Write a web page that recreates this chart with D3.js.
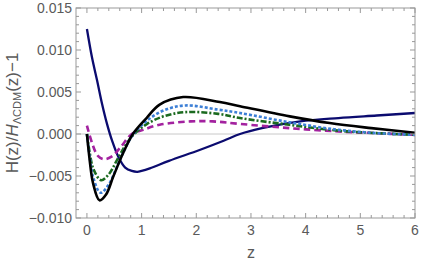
<!DOCTYPE html>
<html><head><meta charset="utf-8">
<script src="https://cdn.jsdelivr.net/npm/d3@7"></script>
<style>body{margin:0;background:#fff}svg{display:block}</style>
</head><body>
<script>
const zNavy = [0,0.093,0.185,0.276,0.367,0.46,0.58,0.70,0.82,0.92,1.0,1.15,1.5,2.06,2.5,2.8,3.2,3.9,4.6,5.3,6];
const yNavy = [0.0125,0.0091,0.0064,0.0036,0.0012,-0.0008,-0.0028,-0.0040,-0.0044,-0.0045,-0.0044,-0.0041,-0.0032,-0.0019,-0.0008,0.0000,0.0007,0.0015,0.0019,0.0022,0.0025];
const zBlack = [0,0.05,0.11,0.23,0.35,0.48,0.66,0.84,1.09,1.33,1.76,2.43,2.8,3.71,4.44,5.2,6];
const yBlack = [0,-0.0031,-0.0058,-0.0079,-0.0072,-0.0051,-0.0023,0.0000,0.0019,0.0035,0.0044,0.0038,0.0033,0.0021,0.0013,0.0007,0.00015];
const zBlue = [0,0.05,0.12,0.25,0.4,0.55,0.7,0.85,1.1,1.4,1.8,2.4,2.8,3.7,4.6,5.3,6];
const yBlue = [0,-0.0027,-0.0053,-0.0070,-0.0060,-0.0039,-0.0017,0.0000,0.0016,0.0028,0.0034,0.0029,0.0025,0.0014,0.0005,0.0001,-0.0001];
const zGreen = [0,0.05,0.12,0.26,0.4,0.55,0.7,0.85,1.1,1.4,1.8,2.4,2.8,3.7,4.6,5.3,6];
const yGreen = [0,-0.0022,-0.0042,-0.0055,-0.0048,-0.0031,-0.0014,-0.0001,0.0012,0.0021,0.0026,0.0024,0.0019,0.0011,0.0004,0.0001,-0.0001];
const zMag = [0,0.1,0.2,0.31,0.45,0.6,0.82,1.03,1.33,1.9,2.3,2.8,3.7,4.6,5.3,6];
const yMag = [0.0010,-0.0012,-0.0026,-0.0030,-0.0027,-0.0017,0.0000,0.0005,0.0011,0.0015,0.0015,0.0012,0.0007,0.0003,0.0001,-0.0001];
const xTicks = [0,1,2,3,4,5,6];
const yTicks = [-0.010,-0.005,0.000,0.005,0.010,0.015];

const W=421,H=267;
const L=76,R=415,T=8,B=218;
const svg=d3.select("body").append("svg").attr("width",W).attr("height",H);
const x=d3.scaleLinear().domain([-0.2,6]).range([L,R]);
const y=d3.scaleLinear().domain([-0.010,0.015]).range([B,T]);
const gray="#999", txt="#5a5a5a";

svg.append("line").attr("x1",L).attr("x2",R).attr("y1",y(0)).attr("y2",y(0)).attr("stroke","#c8c8c8").attr("stroke-width",1);

svg.append("clipPath").attr("id","c").append("rect").attr("x",L).attr("y",T).attr("width",R-L).attr("height",B-T);
const g=svg.append("g").attr("clip-path","url(#c)");
const line=d3.line().x(d=>x(d[0])).y(d=>y(d[1])).curve(d3.curveCatmullRom.alpha(0.5));
const series=[
 {z:zNavy,v:yNavy,c:"#0b0b6f",w:2.3,d:null},
 {z:zMag,v:yMag,c:"#a3229f",w:2.6,d:"6.5,4"},
 {z:zGreen,v:yGreen,c:"#1b6a1f",w:2.6,d:"6,2,2,2"},
 {z:zBlue,v:yBlue,c:"#3c7fd6",w:2.6,d:"3,2"},
 {z:zBlack,v:yBlack,c:"#000",w:2.6,d:null}
];
series.forEach(s=>{
 g.append("path").attr("d",line(s.z.map((z,i)=>[z,s.v[i]]))).attr("fill","none")
  .attr("stroke",s.c).attr("stroke-width",s.w).attr("stroke-dasharray",s.d);
});

svg.append("rect").attr("x",L).attr("y",T).attr("width",R-L).attr("height",B-T).attr("fill","none").attr("stroke",gray).attr("stroke-width",1);

const fr=svg.append("g").attr("stroke",gray).attr("stroke-width",1);
d3.range(0,6.001,0.2).forEach(v=>{
 const major=Math.abs(v-Math.round(v))<1e-6; const len=major?5:3; const px=x(v);
 fr.append("line").attr("x1",px).attr("x2",px).attr("y1",B).attr("y2",B-len);
 fr.append("line").attr("x1",px).attr("x2",px).attr("y1",T).attr("y2",T+len);
});
d3.range(-0.010,0.0150001,0.001).forEach(v=>{
 const major=Math.abs(v/0.005-Math.round(v/0.005))<1e-6; const len=major?5:3; const py=y(v);
 fr.append("line").attr("x1",L).attr("x2",L+len).attr("y1",py).attr("y2",py);
 fr.append("line").attr("x1",R).attr("x2",R-len).attr("y1",py).attr("y2",py);
});

const font="Liberation Sans, Arial, sans-serif";
xTicks.forEach(v=>{
 svg.append("text").attr("x",x(v)).attr("y",235).attr("text-anchor","middle").attr("font-family",font).attr("font-size",14).attr("fill",txt).text(v);
});
yTicks.forEach(v=>{
 svg.append("text").attr("x",72).attr("y",y(v)+5).attr("text-anchor","end").attr("font-family",font).attr("font-size",14).attr("fill",txt).text(v===0?"0.000":(v<0?"\u2212":"")+Math.abs(v).toFixed(3));
});
svg.append("text").attr("x",x(3)).attr("y",258).attr("text-anchor","middle").attr("font-family",font).attr("font-size",16).attr("fill",txt).text("z");
const yl=svg.append("text").attr("transform","translate(18,113) rotate(-90)").attr("text-anchor","middle").attr("font-family",font).attr("font-size",17).attr("fill",txt);
yl.append("tspan").text("H(z)/");
yl.append("tspan").attr("font-style","italic").text("H");
yl.append("tspan").attr("font-size",11).attr("dy",3).text("\u039BCDM");
yl.append("tspan").attr("dy",-3).text("(z)\u22121");
</script>
</body></html>
